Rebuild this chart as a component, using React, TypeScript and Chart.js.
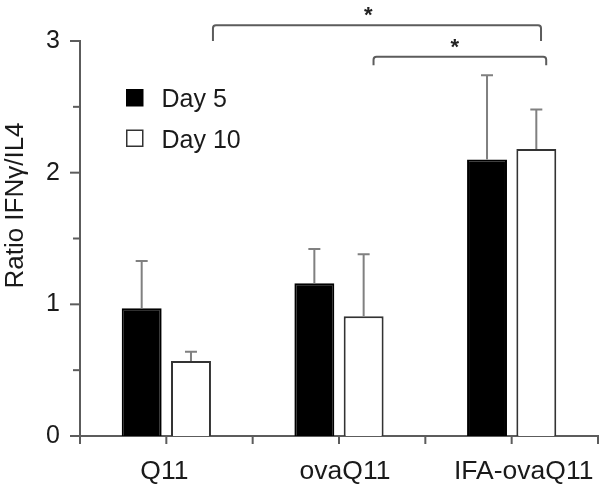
import React, { useEffect, useRef } from 'react';
import { Chart, registerables } from 'chart.js';

Chart.register(...registerables);

// ---------- data ----------
const categories = ['Q11', 'ovaQ11', 'IFA-ovaQ11'];
const seriesNames = ['Day 5', 'Day 10'];
const day5 = [0.97, 1.16, 2.1];
const day10 = [0.57, 0.91, 2.18];
const day5Err = [0.36, 0.26, 0.64];
const day10Err = [0.07, 0.47, 0.3];
const yTitle = 'Ratio IFNγ/IL4';
const comparisons = [
  { from: 'Q11', to: 'IFA-ovaQ11', mark: '*' },
  { from: 'ovaQ11', to: 'IFA-ovaQ11', mark: '*' },
];

// ---------- styles ----------
const FONT = "'Liberation Sans', Arial, Helvetica, sans-serif";
const AXIS = '#5c5c5c';
const TEXT = '#1a1a1a';
const ERR = '#808080';
// bracket geometry (offsets in category units / value units)
const bracketGeom = [
  { dFrom: 0.27, dTo: 0.17, level: 3.12, end: 3.0, markDx: 1.17, markLevel: 3.245 },
  { dFrom: 0.2, dTo: 0.2, level: 2.88, end: 2.815, markDx: 1.67, markLevel: 3.0 },
];
const labelNudge = [-2, 6, 12];

const decor = {
  id: 'decor',
  afterDatasetsDraw(chart: any) {
    const { ctx, scales } = chart;
    const y = scales.y;
    const errs = [day5Err, day10Err];
    const vals = [day5, day10];
    ctx.save();
    ctx.strokeStyle = ERR;
    ctx.lineWidth = 2;
    chart.data.datasets.forEach((_: any, di: number) => {
      const meta = chart.getDatasetMeta(di);
      meta.data.forEach((bar: any, i: number) => {
        const top = y.getPixelForValue(vals[di][i]);
        const et = y.getPixelForValue(vals[di][i] + errs[di][i]);
        ctx.beginPath();
        ctx.moveTo(bar.x, top);
        ctx.lineTo(bar.x, et);
        ctx.moveTo(bar.x - 6, et);
        ctx.lineTo(bar.x + 6, et);
        ctx.stroke();
      });
    });
    ctx.restore();
  },
  afterDraw(chart: any) {
    const { ctx, chartArea, scales } = chart;
    const x = scales.x;
    const y = scales.y;
    ctx.save();
    // y ticks
    ctx.strokeStyle = AXIS;
    ctx.lineWidth = 2;
    y.ticks.forEach((t: any) => {
      const py = y.getPixelForValue(t.value);
      const len = Number.isInteger(t.value) ? 10 : 7;
      ctx.beginPath();
      ctx.moveTo(chartArea.left - len, py);
      ctx.lineTo(chartArea.left, py);
      ctx.stroke();
    });
    // x ticks (centers and boundaries)
    for (let i = 0; i <= categories.length; i++) {
      const pts = [x.getPixelForValue(i - 0.5)];
      if (i < categories.length) pts.push(x.getPixelForValue(i));
      pts.forEach((px: number) => {
        ctx.beginPath();
        ctx.moveTo(px, chartArea.bottom);
        ctx.lineTo(px, chartArea.bottom + 8);
        ctx.stroke();
      });
    }
    // x labels
    ctx.fillStyle = TEXT;
    ctx.font = `25px ${FONT}`;
    ctx.textAlign = 'center';
    ctx.textBaseline = 'alphabetic';
    categories.forEach((c, i) => {
      ctx.save();
      ctx.translate(x.getPixelForValue(i) + labelNudge[i], chartArea.bottom + 43);
      ctx.scale(1.06, 1);
      ctx.fillText(c, 0, 0);
      ctx.restore();
    });
    // y title
    ctx.save();
    ctx.font = `26px ${FONT}`;
    ctx.translate(16, (chartArea.top + chartArea.bottom) / 2 - 33);
    ctx.rotate(-Math.PI / 2);
    ctx.textBaseline = 'middle';
    ctx.textAlign = 'center';
    ctx.fillText(yTitle, 0, 0);
    ctx.restore();
    // legend
    const lx = chartArea.left + 46;
    const ly = chartArea.top + 48;
    chart.data.datasets.forEach((ds: any, i: number) => {
      const top = ly + i * 40.5;
      ctx.fillStyle = ds.borderColor;
      ctx.fillRect(lx, top, 17.5, 17.5);
      ctx.fillStyle = ds.backgroundColor;
      ctx.fillRect(lx + 1.5, top + 1.5, 14.5, 14.5);
      ctx.fillStyle = TEXT;
      ctx.textAlign = 'left';
      ctx.textBaseline = 'alphabetic';
      ctx.font = `25px ${FONT}`;
      ctx.fillText(ds.label, lx + 35.5, top + 18);
    });
    // significance brackets
    comparisons.forEach((cmp, k) => {
      const g = bracketGeom[k];
      const x0 = x.getPixelForValue(categories.indexOf(cmp.from) + g.dFrom);
      const x1 = x.getPixelForValue(categories.indexOf(cmp.to) + g.dTo);
      const yl = y.getPixelForValue(g.level);
      const ye = y.getPixelForValue(g.end);
      ctx.strokeStyle = AXIS;
      ctx.lineWidth = 2;
      ctx.beginPath();
      ctx.moveTo(x0, ye);
      ctx.lineTo(x0, yl + 3);
      ctx.quadraticCurveTo(x0, yl, x0 + 3, yl);
      ctx.lineTo(x1 - 3, yl);
      ctx.quadraticCurveTo(x1, yl, x1, yl + 3);
      ctx.lineTo(x1, ye);
      ctx.stroke();
      ctx.fillStyle = '#222';
      ctx.font = `bold 22px ${FONT}`;
      ctx.textAlign = 'center';
      ctx.textBaseline = 'alphabetic';
      const mx = x.getPixelForValue(g.markDx);
      const my = y.getPixelForValue(g.markLevel);
      ctx.fillText(cmp.mark, mx, my + 13);
    });
    ctx.restore();
  },
};

export default function App() {
  const ref = useRef<HTMLCanvasElement | null>(null);
  useEffect(() => {
    if (!ref.current) return;
    const chart = new Chart(ref.current, {
      type: 'bar',
      data: {
        labels: categories,
        datasets: [
          {
            label: seriesNames[0],
            data: day5,
            backgroundColor: '#000000',
            borderColor: '#000000',
            borderWidth: 2,
          },
          {
            label: seriesNames[1],
            data: day10,
            backgroundColor: '#ffffff',
            borderColor: '#333333',
            borderWidth: 2,
          },
        ],
      },
      options: {
        responsive: false,
        animation: false,
        events: [],
        categoryPercentage: 0.571,
        barPercentage: 0.81,
        layout: { padding: { top: 41, right: 3, left: 0, bottom: 0 } },
        plugins: {
          legend: { display: false },
          tooltip: { enabled: false },
        },
        scales: {
          x: {
            offset: true,
            grid: { display: false, drawTicks: false },
            border: { display: true, color: AXIS, width: 2 },
            ticks: { display: false },
            afterFit: (s: any) => {
              s.height = 48;
            },
          },
          y: {
            min: 0,
            max: 3,
            grid: { display: false, drawTicks: false },
            border: { display: true, color: AXIS, width: 2 },
            ticks: {
              stepSize: 0.5,
              padding: 20,
              color: TEXT,
              font: { family: FONT, size: 25 },
              callback: (v: any) => (Number.isInteger(v) ? String(v) : ''),
            },
            afterFit: (s: any) => {
              s.width = 80;
            },
          },
        },
      } as any,
      plugins: [decor],
    });
    return () => chart.destroy();
  }, []);
  return (
    <div style={{ position: 'fixed', left: 0, top: 0, width: 601, height: 484, background: '#fff' }}>
      <canvas ref={ref} width={601} height={484} style={{ display: 'block' }} />
    </div>
  );
}
